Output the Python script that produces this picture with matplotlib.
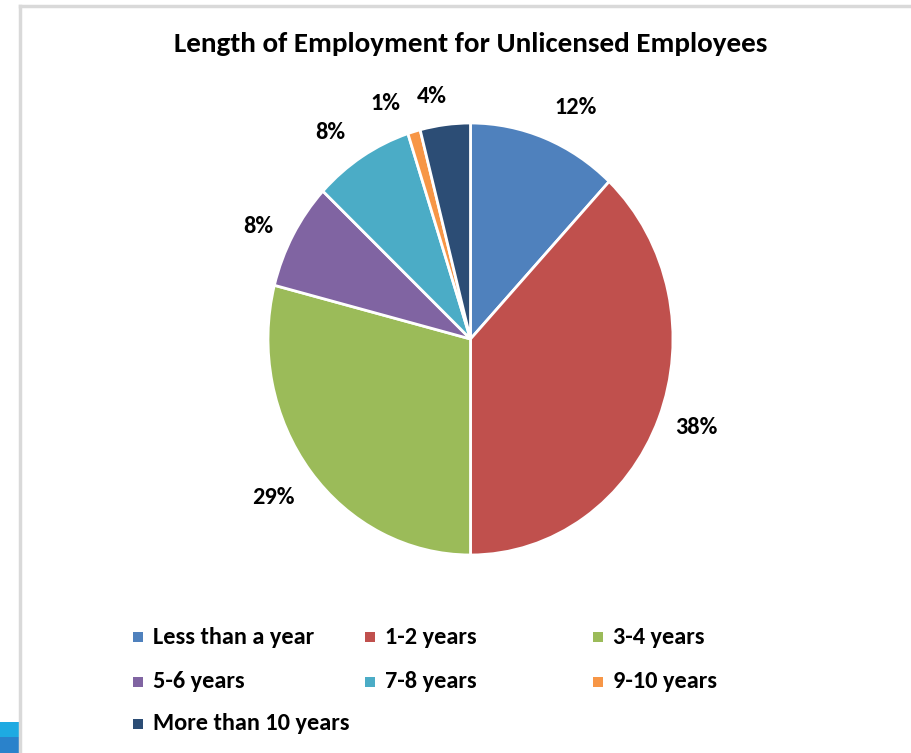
import numpy as np
import matplotlib
matplotlib.use("Agg")
import matplotlib.pyplot as plt
from matplotlib.patches import Rectangle
from matplotlib.lines import Line2D

# Data
categories = ["Less than a year", "1-2 years", "3-4 years", "5-6 years",
              "7-8 years", "9-10 years", "More than 10 years"]
shares = [12, 38, 29, 8, 8, 1, 4]
colors = ["#4F81BD", "#C0504D", "#9BBB59", "#8064A2",
          "#4BACC6", "#F79646", "#2C4D75"]
title = "Length of Employment for Unlicensed Employees"

# Best-fit style label placement: radial distance and angular nudge (deg)
label_radius = [1.19, 1.19, 1.22, 1.17, 1.18, 1.17, 1.14]
label_nudge = [-4.2, 1.4, -0.9, 2.3, 3.6, 4.8, 2.4]

FONT = ["Carlito", "Lato", "DejaVu Sans"]
plt.rcParams["font.family"] = FONT

W, H = 912, 753
fig = plt.figure(figsize=(W / 100, H / 100), dpi=100)
fig.patch.set_facecolor("white")


def fx(px):
    return px / W


def fy(py):
    return 1 - py / H


# Pie axes (slightly taller than wide, as in the rendered chart)
left, right, top, bottom = 268, 673, 123, 555
ax = fig.add_axes([fx(left), fy(bottom), fx(right - left), (bottom - top) / H])
wedges, texts, autotexts = ax.pie(
    shares, colors=colors, startangle=90, counterclock=False,
    autopct=lambda p: f"{p:.0f}%", pctdistance=1.18,
    wedgeprops=dict(edgecolor="white", linewidth=2),
    textprops=dict(fontsize=17.5, fontweight="bold", color="#000000"),
)
ax.set_aspect("auto")
ax.set_xlim(-1, 1)
ax.set_ylim(-1, 1)
for w, t, r, d in zip(wedges, autotexts, label_radius, label_nudge):
    ang = np.deg2rad((w.theta1 + w.theta2) / 2 + d)
    t.set_position((r * np.cos(ang), r * np.sin(ang)))
    t.set_clip_on(False)

# Title
fig.text(fx(471), fy(44), title, ha="center", va="center",
         fontsize=21, fontweight="bold", color="#000000")

# Legend laid out row by row in three evenly spaced columns
col_x = [133, 365, 593]
row_y = [637, 682, 724]
for i, (name, c) in enumerate(zip(categories, colors)):
    r, k = divmod(i, 3)
    x, y = col_x[k], row_y[r]
    fig.patches.append(Rectangle((fx(x), fy(y + 5)), 10 / W, 10 / H,
                                 transform=fig.transFigure, facecolor=c,
                                 edgecolor="none"))
    fig.text(fx(x + 20), fy(y), name, ha="left", va="center",
             fontsize=17.5, fontweight="bold", color="#000000")

# Chart frame edges and window corner
fig.add_artist(Line2D([fx(20), 1], [fy(6), fy(6)], color="#D9D9D9", lw=2.5,
                      transform=fig.transFigure))
fig.add_artist(Line2D([fx(20), fx(20)], [fy(6), 0], color="#D9D9D9", lw=2.5,
                      transform=fig.transFigure))
fig.patches.append(Rectangle((0, fy(737)), fx(19), 15 / H,
                             transform=fig.transFigure, facecolor="#1EAAE2",
                             edgecolor="none"))
fig.patches.append(Rectangle((0, 0), fx(19), 16 / H,
                             transform=fig.transFigure, facecolor="#2A82CB",
                             edgecolor="none"))

fig.savefig("out.png", dpi=100, facecolor="white")
